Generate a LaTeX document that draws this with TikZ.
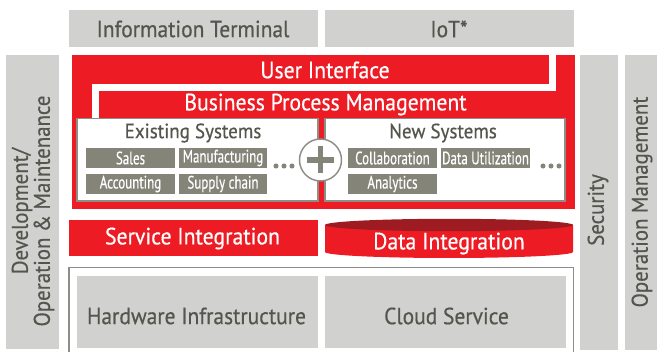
\documentclass[tikz,border=0pt]{standalone}
\usepackage{fontspec}
\setmainfont{PT Sans}
\newfontfamily\narrowfont[FakeStretch=0.72,FakeBold=0.4]{PT Sans}
\newfontfamily\labelfont[FakeStretch=0.92,FakeBold=0.5]{PT Sans}
\usetikzlibrary{fit}
\definecolor{fjred}{HTML}{ED1C24}
\definecolor{fjdark}{HTML}{9E1B21}
\definecolor{panelgray}{HTML}{D1D1CF}
\definecolor{ink}{HTML}{55554E}
\definecolor{chipgray}{HTML}{858479}
\definecolor{rulegray}{HTML}{8E8E89}
\begin{document}
\begin{tikzpicture}[x=0.75pt,y=-0.75pt,
  every node/.style={inner sep=0pt,outer sep=0pt},
  panel/.style={fill=panelgray,text=ink,font=\labelfont\fontsize{17.5}{18}\selectfont},
  vpanel/.style={panel,align=center,rotate=90,font=\labelfont\fontsize{17}{16.5}\selectfont},
  redtext/.style={text=white,font=\labelfont\fontsize{17.7}{18}\selectfont},
  sysbox/.style={fill=white,draw=rulegray,line width=1.1pt},
  systitle/.style={text=ink,font=\labelfont\fontsize{15.5}{18}\selectfont},
  chip/.style={fill=chipgray,text=white,font=\narrowfont\fontsize{13.5}{14}\selectfont},
  dot/.style={circle,fill=chipgray,minimum size=3.8pt},
]
\useasboundingbox (0,0) rectangle (657,352);

% top row
\node[panel,fit={(69,10) (318,47.5)}] (info) {};
\node[panel] at (193,29) {Information Terminal};
\node[panel,fit={(325,10) (574,47.5)}] (iot) {};
\node[panel] at (449,29) {IoT*};

% side columns
\node[panel,fit={(6,55) (59,349)}] (devops) {};
\node[vpanel] at (33,211) {Development/\\Operation \& Maintenance};
\node[panel,fit={(580,55) (618,350)}] (security) {};
\node[vpanel] at (598,210) {Security};
\node[panel,fit={(625,55) (657,350)}] (opman) {};
\node[vpanel] at (642,202) {Operation Management};

% application layer
\node[fill=fjred,fit={(72,55) (575,209.5)}] (applayer) {};
\draw[white,line width=5.25pt] (95.5,119) -- (95.5,87.5) -- (552.5,87.5) -- (552.5,55);
\node[redtext] (ui) at (325,70) {User Interface};
\node[redtext] (bpm) at (325.5,104.5) {Business Process Management};

% existing systems
\node[sysbox,fit={(77,118.5) (318,201)}] (existing) {};
\node[systitle] at (193,133) {Existing Systems};
\node[chip,fit={(86,148) (175,168)}] (sales) {};
\node[chip] at (130.5,158) {Sales};
\node[chip,fit={(179,148) (267,168)}] (manu) {};
\node[chip] at (223,158) {Manufacturing};
\node[chip,fit={(86,174) (175,194)}] (acct) {};
\node[chip] at (130.5,184) {Accounting};
\node[chip,fit={(179,174) (267,194)}] (supply) {};
\node[chip] at (223,184) {Supply chain};
\node[dot] at (276,166) {};
\node[dot] at (284,166) {};
\node[dot] at (292,166) {};

% new systems
\node[sysbox,fit={(325,118.5) (565,201)}] (newsys) {};
\node[systitle] at (443,133) {New Systems};
\node[chip,fit={(348,148) (437,168)}] (collab) {};
\node[chip] at (392.5,158) {Collaboration};
\node[chip,fit={(441,148) (530,168)}] (datautil) {};
\node[chip] at (485.5,158) {Data Utilization};
\node[chip,fit={(348,174) (437,194)}] (analytics) {};
\node[chip] at (392.5,184) {Analytics};
\node[dot] at (543,166) {};
\node[dot] at (551,166) {};
\node[dot] at (559,166) {};

% plus sign joining both sets of systems
\node[circle,fill=white,draw=rulegray,line width=1.1pt,minimum size=31.5pt] (plus) at (320.5,160) {};
\draw[chipgray,line width=4.2pt] (307,160) -- (334,160) (320.5,146.5) -- (320.5,173.5);

% integration layer
\node[fill=fjred,fit={(69,220) (317.5,256.5)}] (serviceint) {};
\node[redtext] at (192.5,238.5) {Service Integration};
\fill[fjred] (325,225) -- (325,252) arc[start angle=180,end angle=0,x radius=124,y radius=6] -- (573,225) -- cycle;
\fill[fjdark] (449,225) ellipse[x radius=124,y radius=6.2];
\node[redtext] (dataint) at (449,243.5) {Data Integration};

% infrastructure layer
\draw[rulegray,line width=1.1pt] (69,356) -- (69,267.5) -- (573.5,267.5) -- (573.5,356);
\node[panel,fit={(77,276) (317.5,348)}] (hw) {};
\node[panel] at (196.5,316) {Hardware Infrastructure};
\node[panel,fit={(325,276) (566,348)}] (cloud) {};
\node[panel] at (446.5,316) {Cloud Service};
\end{tikzpicture}
\end{document}
